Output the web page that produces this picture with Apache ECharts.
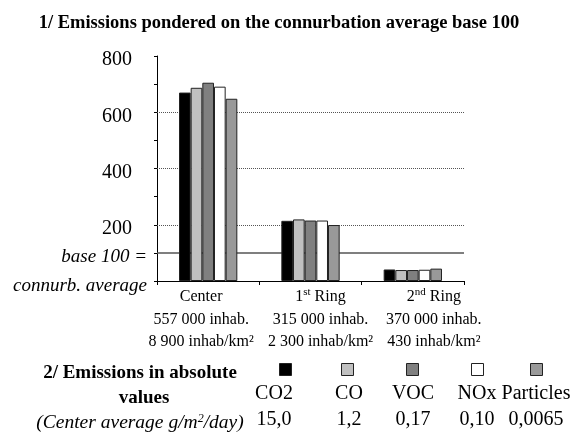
<!DOCTYPE html>
<html>
<head>
<meta charset="utf-8">
<style>
  html, body { margin: 0; padding: 0; background: #fff; }
  #chart { width: 576px; height: 432px; }
</style>
<script src="https://cdn.jsdelivr.net/npm/echarts@6/dist/echarts.min.js"></script>
</head>
<body>
<div id="chart"></div>
<script>
/* Emissions per area, base 100 = connurbation average */
var categories = ['Center', '1st Ring', '2nd Ring'];
var inhabitants = ['557 000 inhab.', '315 000 inhab.', '370 000 inhab.'];
var density = ['8 900 inhab/km²', '2 300 inhab/km²', '430 inhab/km²'];

var pollutants = ['CO2', 'CO', 'VOC', 'NOx', 'Particles'];
var co2 = [670, 214, 41];
var co = [687, 219, 39];
var voc = [705, 215, 39];
var nox = [691, 215, 40];
var particles = [648, 199, 44];
var absValues = ['15,0', '1,2', '0,17', '0,10', '0,0065'];

var yTickLabels = ['connurb. average', 'base 100 =', '200', '', '400', '', '600', '', '800'];
var dottedLevels = [200, 400, 600];
var baseLevel = 100;

(function () {
  'use strict';
  var dom = document.getElementById('chart');
  var chart = echarts.init(dom, null, { renderer: 'canvas' });

  var serif = 'Liberation Serif, Times New Roman, serif';
  var colors = ['#000000', '#c0c0c0', '#808080', '#ffffff', '#999999'];
  var seriesValues = [co2, co, voc, nox, particles];
  // horizontal shift of each category label (text is not centred under its group)
  var labelPad = [[0, 14, 0, 0], [0, 0, 0, 20], [0, 0, 0, 42]];
  var legendX = [285, 347, 412, 477, 536];
  var textX = [274, 349, 413, 477, 536];

  var series = pollutants.map(function (name, i) {
    var s = {
      name: name,
      type: 'bar',
      z: 10,
      barGap: '0%',
      barCategoryGap: '43%',
      data: seriesValues[i],
      itemStyle: { color: colors[i], borderColor: '#222', borderWidth: 1 },
      emphasis: { disabled: true }
    };
    if (i === 0) {
      s.markLine = {
        silent: true,
        symbol: 'none',
        z: 5,
        label: { show: false },
        data: dottedLevels.map(function (v) {
          return { yAxis: v, lineStyle: { type: 'dotted', color: '#555', width: 1 } };
        }).concat([{ yAxis: baseLevel, lineStyle: { type: 'solid', color: '#555', width: 1.5 } }])
      };
    }
    return s;
  });

  var legends = pollutants.map(function (name, i) {
    return {
      data: [name],
      left: legendX[i] - 6,
      top: 363,
      padding: 0,
      icon: 'rect',
      itemWidth: 12,
      itemHeight: 12,
      selectedMode: false,
      formatter: function () { return ''; },
      itemStyle: { borderColor: '#222', borderWidth: 1 }
    };
  });

  var graphics = [];
  pollutants.forEach(function (name, i) {
    graphics.push({
      type: 'text', x: textX[i], y: 394,
      style: { text: name, align: 'center', verticalAlign: 'middle', fontFamily: serif, fontSize: 20, fill: '#000' }
    });
    graphics.push({
      type: 'text', x: textX[i], y: 420,
      style: { text: absValues[i], align: 'center', verticalAlign: 'middle', fontFamily: serif, fontSize: 20, fill: '#000' }
    });
  });
  graphics.push({
    type: 'text', x: 140, y: 373,
    style: { text: '2/ Emissions in absolute', align: 'center', verticalAlign: 'middle', fontFamily: serif, fontSize: 19, fontWeight: 'bold', fill: '#000' }
  });
  graphics.push({
    type: 'text', x: 144, y: 398,
    style: { text: 'values', align: 'center', verticalAlign: 'middle', fontFamily: serif, fontSize: 19, fontWeight: 'bold', fill: '#000' }
  });
  graphics.push({
    type: 'text', x: 140, y: 423,
    style: {
      text: '(Center average g/m{sup|2}/day)', align: 'center', verticalAlign: 'middle',
      fontFamily: serif, fontSize: 19.5, fontStyle: 'italic', fill: '#000',
      rich: { sup: { fontFamily: serif, fontSize: 12, fontStyle: 'italic', verticalAlign: 'top', padding: [0, 0, 8, 0] } }
    }
  });

  var option = {
    animation: false,
    title: {
      text: '1/ Emissions pondered on the connurbation average base 100',
      left: 274,
      top: 9,
      textAlign: 'center',
      textStyle: { fontFamily: serif, fontSize: 18.5, fontWeight: 'bold', color: '#000' }
    },
    legend: legends,
    grid: { left: 157, right: 112, top: 56, bottom: 151 },
    xAxis: {
      type: 'category',
      data: categories.map(function (c, i) {
        return { value: c, textStyle: { padding: labelPad[i] } };
      }),
      axisLine: { lineStyle: { color: '#000', width: 1 } },
      axisTick: { show: true, length: 4, lineStyle: { color: '#000' } },
      axisLabel: {
        margin: 5,
        interval: 0,
        fontFamily: serif,
        fontSize: 16,
        lineHeight: 22.5,
        color: '#000',
        formatter: function (value, idx) {
          var head = value.replace(/^(\d)(st|nd|rd|th)/, '$1{sup|$2}');
          return head + '\n' + inhabitants[idx] + '\n' + density[idx];
        },
        rich: {
          sup: { fontFamily: serif, fontSize: 11, lineHeight: 22.5, verticalAlign: 'top', color: '#000', padding: [1, 0, 0, 0] }
        }
      }
    },
    yAxis: {
      type: 'value',
      min: 0,
      max: 800,
      interval: 100,
      splitLine: { show: false },
      axisLine: { show: true, lineStyle: { color: '#000', width: 1 } },
      axisTick: { show: true, length: 3, lineStyle: { color: '#000' } },
      axisLabel: {
        margin: 10,
        color: '#000',
        formatter: function (value, idx) {
          var t = yTickLabels[idx];
          if (!t) return '';
          return idx < 2 ? '{it|' + t + '}' : '{num|' + t + '}';
        },
        rich: {
          num: { fontFamily: serif, fontSize: 20, color: '#000', padding: [8, 15, 0, 0] },
          it: { fontFamily: serif, fontSize: 19, fontStyle: 'italic', color: '#000', padding: [9, 0, 0, 0] }
        }
      }
    },
    graphic: graphics,
    series: series
  };

  chart.setOption(option);
  window.addEventListener('resize', function () { chart.resize(); });
})();
</script>
</body>
</html>
